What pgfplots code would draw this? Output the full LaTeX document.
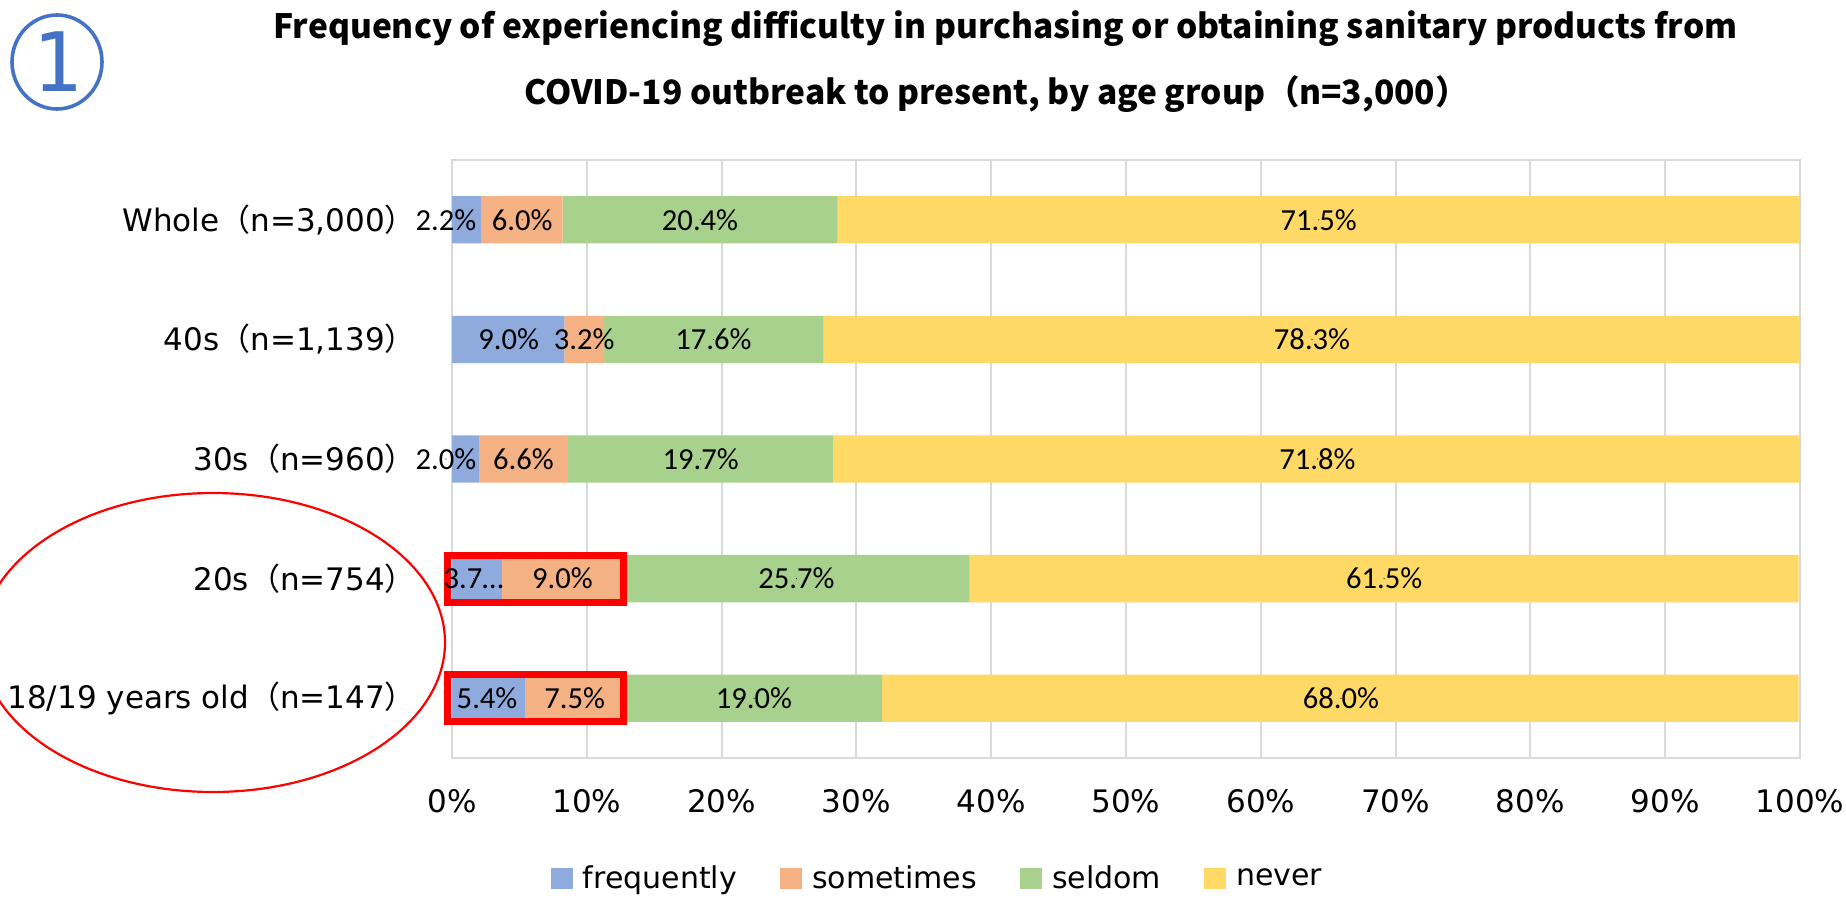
\documentclass[border=0pt]{standalone}
\usepackage{pgfplots}
\pgfplotsset{compat=1.18}
\usepackage{pgfplotstable}
\usepackage{fontspec}
\setmainfont{DejaVu Sans}
\newfontfamily\cjk{Noto Sans CJK JP}
\newfontfamily\barfont{Carlito}
\newfontfamily\numfont{DejaVu Sans Mono}
\newcommand\lp{{\cjk （}}
\newcommand\rp{{\cjk ）}}

\definecolor{cfreq}{HTML}{8FAADC}
\definecolor{csome}{HTML}{F4B183}
\definecolor{cseld}{HTML}{A9D18E}
\definecolor{cnever}{HTML}{FFD966}
\definecolor{gridc}{HTML}{D9D9D9}
\definecolor{circ}{HTML}{4472C4}

% bar lengths (40s row rescaled to 100%, as drawn in the chart)
\pgfplotstableread{
y freq some seldom never
4 2.2 6.0 20.4 71.5
3 8.33 2.96 16.28 72.43
2 2.0 6.6 19.7 71.8
1 3.7 9.0 25.7 61.5
0 5.4 7.5 19.0 68.0
}\shares

% data labels: row, position, text
\pgfplotstableread{
y x label
4 -0.45 2.2\%
4 5.2 6.0\%
4 18.4 20.4\%
4 64.3 71.5\%
3 4.2 9.0\%
3 9.8 3.2\%
3 19.4 17.6\%
3 63.8 78.3\%
2 -0.45 2.0\%
2 5.3 6.6\%
2 18.45 19.7\%
2 64.2 71.8\%
1 1.6 3.7…
1 8.2 9.0\%
1 25.55 25.7\%
1 69.15 61.5\%
0 2.6 5.4\%
0 9.1 7.5\%
0 22.4 19.0\%
0 65.95 68.0\%
}\labels

\pgfplotsset{
  legimg/.style={legend image code/.code={\fill[##1] (0pt,-5.25pt) rectangle (11pt,5.25pt);}},
  frame/.style={at={(226pt,-379pt)}, anchor=south west, scale only axis,
    width=674pt, height=299pt, xmin=0, xmax=100, ymin=-0.5, ymax=4.5},
}

\begin{document}
\begin{tikzpicture}
\begin{axis}[
    frame,
    xbar stacked,
    bar width=23.65pt,
    axis line style={gridc, line width=1pt},
    xmajorgrids,
    major grid style={gridc, line width=1pt},
    major tick length=0pt,
    xtick={0,10,...,100},
    xticklabels={0\%,10\%,20\%,30\%,40\%,50\%,60\%,70\%,80\%,90\%,100\%},
    xticklabel style={font=\fontsize{15.5}{18}\selectfont, yshift=-12pt},
    ytick={0,1,2,3,4},
    yticklabels={{18/19 years old\lp n=147\rp},{20s\lp n=754\rp},{30s\lp n=960\rp},{40s\lp n=1,139\rp},{Whole\lp n=3,000\rp}},
    yticklabel style={font=\fontsize{15.5}{18}\selectfont, anchor=east, xshift=-14.5pt},
    legend style={at={(0.0734,-0.2017)}, anchor=west, draw=none, fill=none,
      inner sep=0pt, outer sep=0pt,
      legend columns=-1, font=\fontsize{15}{18}\selectfont,
      nodes={inner sep=0pt},
      /tikz/every odd column/.append style={column sep=5pt},
      /tikz/every even column/.append style={column sep=21.5pt}},
    clip=true,
]
\addplot[fill=cfreq, draw=none, legimg] table[x=freq, y=y] {\shares};
\addplot[fill=csome, draw=none, legimg] table[x=some, y=y] {\shares};
\addplot[fill=cseld, draw=none, legimg] table[x=seldom, y=y] {\shares};
\addplot[fill=cnever, draw=none, legimg] table[x=never, y=y] {\shares};
\legend{frequently, sometimes, seldom, never}
\end{axis}

\begin{axis}[frame, hide axis, clip=false]
\addplot[only marks, mark=*, mark size=0.01pt, mark options={draw=none, fill=none},
    nodes near coords, point meta=explicit symbolic,
    nodes near coords align=center,
    every node near coord/.append style={font=\barfont\fontsize{15.3}{18}\selectfont, inner sep=0pt}]
    table[x=x, y=y, meta=label] {\labels};
\draw[red, line width=3.5pt] (axis cs:-0.3,0.804) rectangle (axis cs:12.7,1.196);
\draw[red, line width=3.5pt] (axis cs:-0.3,-0.196) rectangle (axis cs:12.7,0.196);
\end{axis}

\node[font=\cjk\bfseries\fontsize{16.75}{20}\selectfont] at (502.7pt,-14.5pt)
  {Frequency of experiencing difficulty in purchasing or obtaining sanitary products from};
\node[font=\cjk\bfseries\fontsize{16.75}{20}\selectfont] at (498.3pt,-47pt)
  {COVID-19 outbreak to present, by age group（n=3,000）};

\draw[red, line width=1.1pt] (106.5pt,-321.25pt) ellipse [x radius=116pt, y radius=74.75pt];
\draw[circ, line width=1.8pt] (28.5pt,-31pt) ellipse [x radius=22.5pt, y radius=23.5pt];
\node[circ, font=\numfont\fontsize{41}{41}\selectfont, inner sep=0pt] at (28.5pt,-31pt) {1};

\pgfresetboundingbox
\path[use as bounding box] (0,0) rectangle (923pt,-449pt);
\end{tikzpicture}
\end{document}
